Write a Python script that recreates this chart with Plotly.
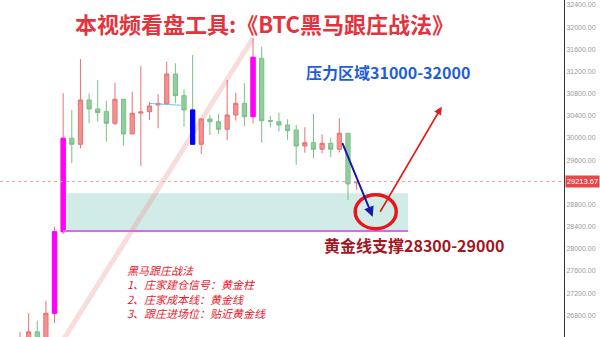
import plotly.graph_objects as go

# ---------------- data ----------------
idx = list(range(40))
opens  = [26250, 26300, 26500, 26330, 26835, 28308, 29995, 29886, 30686, 30524,
          30475, 30265, 30699, 30072, 30450, 30475, 30596, 30614, 31155, 30764,
          30506, 29886, 30343, 30294, 30157, 30415, 30626, 30385, 31439, 30315,
          30294, 30235, 30144, 29856, 29915, 29796, 29904, 29796, 30085, 29190]
highs  = [26500, 26840, 26700, 27060, 28400, 30807, 30506, 31426, 30807, 31047,
          30668, 30998, 30699, 30836, 31300, 30655, 30790, 31378, 31349, 30879,
          31498, 30356, 30415, 30433, 31047, 30818, 30988, 31800, 31648, 30397,
          30457, 30338, 30235, 30193, 30433, 30067, 30005, 30356, 30085, 29225]
lows   = [26150, 26250, 26200, 26300, 26655, 28267, 29543, 29814, 30265, 30294,
          29933, 30235, 29861, 30072, 29494, 30325, 30175, 30614, 30626, 30204,
          29886, 29706, 30054, 30072, 29964, 30312, 30217, 30265, 29915, 30193,
          30114, 29964, 29513, 29735, 29634, 29724, 29652, 29735, 28881, 29060]
closes = [26380, 26500, 26320, 26835, 28308, 29995, 29886, 30686, 30524, 30457,
          30265, 30699, 30072, 30446, 30470, 30578, 30626, 31155, 30764, 30506,
          29886, 30343, 30294, 30157, 30415, 30626, 30385, 31457, 30312, 30300,
          30235, 30132, 29856, 29915, 29796, 29904, 29796, 30085, 29170, 29214]
golden_pillars = [4, 5, 27]   # magenta candles
blue_candles = [20]
last_price = 29213.67
zone_low, zone_high = 28300, 29000
y_ticks = list(range(26400, 32401, 400))

title_text = "本视频看盘工具:《BTC黑马跟庄战法》"
resist_text = "压力区域31000-32000"
support_text = "黄金线支撑28300-29000"
notes = ["黑马跟庄战法", "1、庄家建仓信号：黄金柱", "2、庄家成本线：黄金线", "3、跟庄进场位：贴近黄金线"]

# ---------------- figure ----------------
RED_FILL, RED_LINE = "#f39191", "#e77272"
GRN_FILL, GRN_LINE = "#93cd9f", "#78c087"

fig = go.Figure()
fig.add_trace(go.Candlestick(
    x=idx, open=opens, high=highs, low=lows, close=closes,
    increasing=dict(fillcolor=RED_FILL, line=dict(color=RED_LINE, width=1)),
    decreasing=dict(fillcolor=GRN_FILL, line=dict(color=GRN_LINE, width=1)),
    whiskerwidth=0, hoverinfo="skip", showlegend=False))

def body_overlay(ids, color):
    o = [opens[i] for i in ids]
    c = [closes[i] for i in ids]
    return go.Candlestick(
        x=ids, open=o, close=c,
        high=[max(a, b) for a, b in zip(o, c)], low=[min(a, b) for a, b in zip(o, c)],
        increasing=dict(fillcolor=color, line=dict(color=color, width=1)),
        decreasing=dict(fillcolor=color, line=dict(color=color, width=1)),
        whiskerwidth=0, hoverinfo="skip", showlegend=False)

fig.add_trace(body_overlay(golden_pillars, "#ff00ff"))
fig.add_trace(body_overlay(blue_candles, "#0000ff"))

W_PLOT, H_PLOT = 564, 337
def px(x): return x / W_PLOT
def py(y): return 1 - y / H_PLOT

# support zone
fig.add_shape(type="rect", x0=5.45, x1=44.96, y0=zone_low + 20, y1=zone_high,
              fillcolor="rgba(178,222,215,0.6)", line_width=0, layer="below")
# diagonal trend line
fig.add_shape(type="line", x0=27.0, y0=31805, x1=3.57, y1=26000,
              line=dict(color="rgba(236,150,150,0.33)", width=5), layer="below")
# golden line
fig.add_shape(type="line", x0=5.0, x1=44.96, y0=zone_low + 20, y1=zone_low + 20,
              line=dict(color="#d867ea", width=2))
# small cyan line
fig.add_shape(type="line", x0=15.06, y0=30623, x1=18.74, y1=30590,
              line=dict(color="#6ec6e6", width=1))
# last price dotted line
fig.add_shape(type="line", xref="paper", x0=0, x1=1, y0=last_price, y1=last_price,
              line=dict(color="#f2a3a3", width=1, dash="dot"))
# red ellipse
fig.add_shape(type="circle", x0=38.84, x1=43.59, y0=28362, y1=28976,
              line=dict(color="#e8161b", width=3.5))

# arrows
fig.add_annotation(x=40.87, y=28579, ax=37.28, ay=29933, axref="x", ayref="y",
                   xref="x", yref="y", text="", showarrow=True,
                   arrowhead=2, arrowsize=1, arrowwidth=2, arrowcolor="#1a1aa8")
fig.add_annotation(x=48.86, y=30565, ax=41.63, ay=28641, axref="x", ayref="y",
                   xref="x", yref="y", text="", showarrow=True,
                   arrowhead=2, arrowsize=1, arrowwidth=1.6, arrowcolor="#e01b1b")

CJK = "Noto Sans CJK SC"
def label(x, y, text, **kw):
    fig.add_annotation(x=px(x), y=py(y), xref="paper", yref="paper", showarrow=False,
                       xanchor=kw.pop("xanchor", "center"), yanchor="middle",
                       text=text, **kw)

label(264.5, 23, "<b>" + title_text + "</b>",
      font=dict(family=CJK, size=22, color="#e3343d"))
label(387.5, 72, "<b>" + resist_text + "</b>",
      font=dict(family=CJK, size=16, color="#1f5fd6"))
label(413.5, 245, "<b>" + support_text + "</b>",
      font=dict(family=CJK, size=16, color="#a3161f"))
label(125, 291, "<i>" + "<br>".join(notes) + "</i>", xanchor="left", align="left",
      font=dict(family=CJK, size=11, color="#e8162a"))

# last price label
fig.add_annotation(x=1, y=last_price, xref="paper", yref="y", xanchor="left",
                   yanchor="middle", xshift=1, showarrow=False, text=f"{last_price:.2f}",
                   bgcolor="#e8474a", borderpad=1, width=31,
                   font=dict(family="Liberation Sans", size=7.5, color="white"))

fig.update_layout(
    width=600, height=337, margin=dict(l=0, r=36, t=0, b=0),
    paper_bgcolor="white", plot_bgcolor="white", showlegend=False,
    xaxis=dict(range=[-2.32, 63.03], visible=False, rangeslider=dict(visible=False),
               fixedrange=True),
    yaxis=dict(range=[26407, 32491], side="right", tickvals=y_ticks,
               tickformat=".2f", showgrid=False, zeroline=False,
               showline=True, linecolor="#333333", linewidth=1, ticks="",
               tickfont=dict(family="Liberation Sans", size=7, color="#9a9a9a"),
               fixedrange=True),
)

fig.write_html("out.html")
